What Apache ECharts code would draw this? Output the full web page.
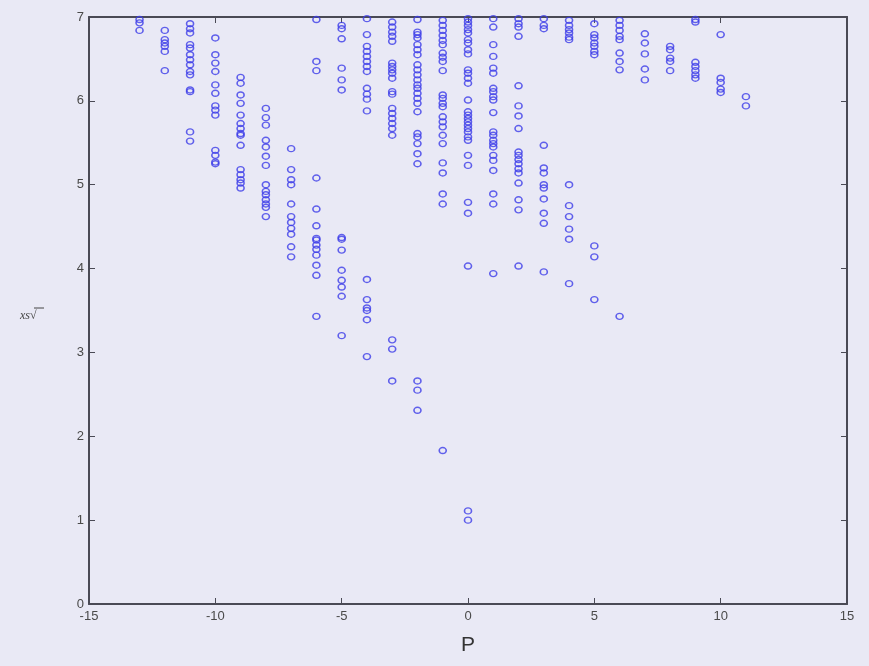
<!DOCTYPE html>
<html><head><meta charset="utf-8">
<script src="https://cdn.jsdelivr.net/npm/echarts@6/dist/echarts.min.js"></script>
<style>html,body{margin:0;padding:0;background:#e9e9f5}#c{width:869px;height:666px}</style>
</head><body><div id="c"></div>
<script>
// P values (columns) and the xs values read for each column
const pValues = [-13,-12,-11,-10,-9,-8,-7,-6,-5,-4,-3,-2,-1,0,1,2,3,4,5,6,7,8,9,10,11];
const xsByP = [
  [6.97,6.93,6.84],
  [6.84,6.73,6.69,6.65,6.59,6.36],
  [6.92,6.86,6.81,6.67,6.63,6.55,6.49,6.43,6.35,6.31,6.13,6.11,5.63,5.52],
  [6.75,6.55,6.45,6.35,6.19,6.09,5.94,5.89,5.83,5.41,5.35,5.27,5.25],
  [6.28,6.21,6.07,5.97,5.83,5.73,5.67,5.61,5.59,5.47,5.18,5.12,5.06,5.02,4.96],
  [5.91,5.80,5.71,5.53,5.45,5.34,5.23,5.00,4.92,4.88,4.82,4.77,4.73,4.62],
  [5.43,5.18,5.06,5.00,4.77,4.62,4.55,4.48,4.41,4.26,4.14],
  [6.97,6.47,6.36,5.08,4.71,4.51,4.36,4.34,4.28,4.23,4.16,4.04,3.92,3.43],
  [6.90,6.86,6.74,6.39,6.25,6.13,4.37,4.35,4.22,3.98,3.86,3.78,3.67,3.20],
  [6.98,6.79,6.65,6.59,6.53,6.47,6.41,6.35,6.15,6.08,6.02,5.88,3.87,3.63,3.53,3.50,3.39,2.95],
  [6.94,6.88,6.82,6.77,6.71,6.45,6.41,6.37,6.33,6.27,6.11,6.08,5.91,5.85,5.79,5.73,5.67,5.59,3.15,3.04,2.66],
  [6.97,6.82,6.79,6.75,6.67,6.61,6.55,6.43,6.37,6.31,6.25,6.19,6.15,6.09,6.03,5.97,5.87,5.61,5.57,5.49,5.37,5.25,2.66,2.55,2.31],
  [6.96,6.90,6.84,6.78,6.72,6.67,6.57,6.52,6.47,6.36,6.07,6.03,5.97,5.93,5.81,5.75,5.69,5.59,5.49,5.26,5.14,4.89,4.77,1.83],
  [6.98,6.94,6.90,6.85,6.81,6.73,6.69,6.61,6.56,6.37,6.33,6.27,6.21,6.01,5.87,5.83,5.79,5.75,5.71,5.67,5.63,5.57,5.53,5.35,5.23,4.79,4.66,4.03,1.11,1.00],
  [6.98,6.88,6.67,6.53,6.39,6.33,6.15,6.11,6.05,6.01,5.86,5.63,5.59,5.53,5.49,5.45,5.35,5.29,5.17,4.89,4.77,3.94],
  [6.98,6.92,6.88,6.77,6.18,5.94,5.82,5.67,5.39,5.35,5.30,5.25,5.19,5.14,5.02,4.82,4.70,4.03],
  [6.98,6.90,6.86,5.47,5.20,5.14,5.00,4.96,4.83,4.66,4.54,3.96],
  [6.96,6.90,6.85,6.81,6.76,6.73,5.00,4.75,4.62,4.47,4.35,3.82],
  [6.92,6.79,6.75,6.69,6.65,6.59,6.55,4.27,4.14,3.63],
  [6.96,6.90,6.84,6.77,6.73,6.57,6.47,6.37,3.43],
  [6.80,6.69,6.56,6.38,6.25],
  [6.65,6.61,6.51,6.47,6.36],
  [6.97,6.94,6.46,6.41,6.36,6.31,6.27],
  [6.79,6.27,6.22,6.14,6.10],
  [6.05,5.94]
];
const xTicks = [-15,-10,-5,0,5,10,15];
const yTicks = [0,1,2,3,4,5,6,7];

const points = [];
pValues.forEach((p, i) => xsByP[i].forEach(v => points.push([p, v])));

const axisCol = '#4a4a55';
const lblStyle = {color:'#4a4a4a', fontSize:13, fontFamily:'Liberation Sans, Arial, sans-serif'};
const chart = echarts.init(document.getElementById('c'), null, {renderer:'canvas'});
chart.setOption({
  backgroundColor:'#e9e9f5',
  animation:false,
  grid:{left:89, right:22, top:17, bottom:62},
  xAxis:[
    {type:'value', min:-15, max:15, interval:5, position:'bottom',
     name:'P', nameLocation:'middle', nameGap:31,
     nameTextStyle:{color:'#333', fontSize:21, fontFamily:'Liberation Sans, Arial, sans-serif'},
     axisLine:{show:true, onZero:false, lineStyle:{color:axisCol, width:2}},
     axisTick:{show:true, inside:true, length:6, lineStyle:{color:axisCol}},
     axisLabel:Object.assign({margin:6}, lblStyle),
     splitLine:{show:false}},
    {type:'value', min:-15, max:15, interval:5, position:'top',
     axisLine:{show:true, onZero:false, lineStyle:{color:axisCol, width:2}},
     axisTick:{show:true, inside:true, length:6, lineStyle:{color:axisCol}},
     axisLabel:{show:false}, splitLine:{show:false}}
  ],
  yAxis:[
    {type:'value', min:0, max:7, interval:1, position:'left',
     axisLine:{show:true, onZero:false, lineStyle:{color:axisCol, width:2}},
     axisTick:{show:true, inside:true, length:6, lineStyle:{color:axisCol}},
     axisLabel:Object.assign({margin:5}, lblStyle),
     splitLine:{show:false}},
    {type:'value', min:0, max:7, interval:1, position:'right',
     axisLine:{show:true, onZero:false, lineStyle:{color:axisCol, width:2}},
     axisTick:{show:true, inside:true, length:6, lineStyle:{color:axisCol}},
     axisLabel:{show:false}, splitLine:{show:false}}
  ],
  graphic:[
    {type:'text', left:20, top:310,
     style:{text:'xs√', fill:'#444', font:'italic 12px Liberation Serif, serif'}},
    {type:'line', shape:{x1:34, y1:308, x2:44, y2:308}, style:{stroke:'#444', lineWidth:1}}
  ],
  series:[{
    type:'scatter', xAxisIndex:0, yAxisIndex:0,
    data:points, symbol:'circle', symbolSize:[7,6],
    itemStyle:{color:'rgba(0,0,0,0)', borderColor:'#3c3ce8', borderWidth:1.5}
  }]
});
</script></body></html>
